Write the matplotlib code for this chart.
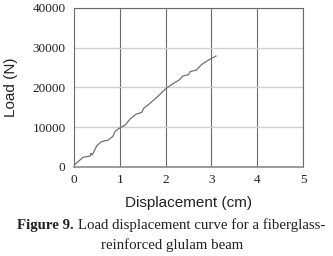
import matplotlib
matplotlib.use("Agg")
import matplotlib.pyplot as plt

displacement = [0.0, 0.2, 0.35, 0.37, 0.40, 0.5, 0.6, 0.75, 0.85, 0.9, 1.0, 1.12, 1.22,
                1.36, 1.48, 1.52, 1.66, 1.81, 2.01, 2.17, 2.3, 2.38, 2.5, 2.54, 2.67,
                2.79, 2.94, 3.1]
load = [400, 2430, 2700, 3430, 3000, 5350, 6360, 6780, 7700, 8950, 9800, 10540, 12000,
        13300, 13700, 14700, 16000, 17500, 19750, 21000, 21900, 22900, 23200, 24000, 24350,
        25800, 26900, 27900]
xticks = [0, 1, 2, 3, 4, 5]
yticks = [0, 10000, 20000, 30000, 40000]

fig = plt.figure(figsize=(3.33, 2.56), dpi=100)
ax = fig.add_axes([0.222, 0.348, 0.688, 0.621])
ax.plot(displacement, load, color="#707070", lw=0.9)
ax.set_xlim(0, 5)
ax.set_ylim(0, 40000)
ax.set_xticks(xticks)
ax.set_yticks(yticks)
ax.set_xticklabels([str(t) for t in xticks], family="Liberation Serif", fontsize=9.5)
ax.set_yticklabels([str(t) for t in yticks], family="Liberation Serif", fontsize=9.5)
ax.tick_params(length=0, colors="#222222")
ax.tick_params(axis="y", pad=6)
ax.tick_params(axis="x", pad=5)
for x in xticks[1:]:
    ax.axvline(x, color="#6a6a6a", lw=0.8, zorder=0)
for y in yticks[1:]:
    ax.axhline(y, color="#cfcfcf", lw=1.0, zorder=0)
for s in ["top", "right", "left"]:
    ax.spines[s].set_color("#6a6a6a")
    ax.spines[s].set_linewidth(0.8)
ax.spines["bottom"].set_color("#8a8a8a")
ax.spines["bottom"].set_linewidth(1.2)
ax.set_xlabel("Displacement (cm)", family="Liberation Sans", fontsize=11, labelpad=7, color="#222222")
ax.set_ylabel("Load (N)", family="Liberation Sans", fontsize=11, labelpad=10, color="#222222")

# caption, line 1 composed of bold + regular parts, centered at x = 171 px
W, H = 333.0, 256.0
cap_fs = 10.7
renderer = fig.canvas.get_renderer()
t1 = fig.text(0, 0.121, "Figure 9. ", family="Liberation Serif", fontweight="bold",
              fontsize=cap_fs, ha="left", va="center", color="#222222")
t2 = fig.text(0, 0.121, "Load displacement curve for a fiberglass-", family="Liberation Serif",
              fontsize=cap_fs, ha="left", va="center", color="#222222")
w1 = t1.get_window_extent(renderer).width
w2 = t2.get_window_extent(renderer).width
x0 = 171.0 - (w1 + w2) / 2.0
t1.set_x(x0 / W)
t2.set_x((x0 + w1) / W)
fig.text(172.0 / W, 0.043, "reinforced glulam beam", family="Liberation Serif",
         fontsize=cap_fs, ha="center", va="center", color="#222222")

fig.savefig("out.png", dpi=100)
